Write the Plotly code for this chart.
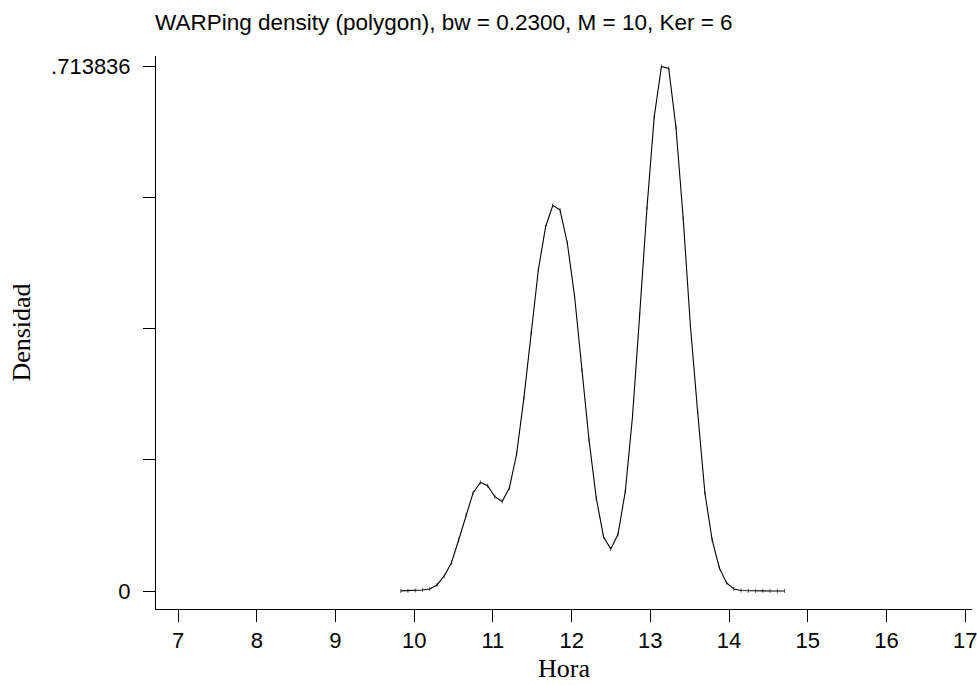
import plotly.graph_objects as go

# Grid of the WARPing polygon (Hora) and estimated density values
hora = [9.829, 9.921, 10.013, 10.105, 10.197, 10.289, 10.381, 10.473, 10.565, 10.657,
        10.749, 10.841, 10.933, 11.025, 11.117, 11.209, 11.301, 11.393, 11.485, 11.577,
        11.669, 11.761, 11.853, 11.945, 12.037, 12.129, 12.221, 12.313, 12.405, 12.497,
        12.589, 12.681, 12.773, 12.865, 12.957, 13.049, 13.141, 13.233, 13.325, 13.417,
        13.509, 13.601, 13.693, 13.785, 13.877, 13.969, 14.061, 14.153, 14.245, 14.337,
        14.429, 14.521, 14.613, 14.705]
densidad = [0.0001, 0.0003, 0.0007, 0.0014, 0.0027, 0.0082, 0.0204, 0.0385, 0.0694, 0.1034,
            0.1338, 0.1479, 0.1433, 0.1283, 0.1218, 0.1402, 0.1864, 0.2622, 0.3507, 0.4369,
            0.4954, 0.5249, 0.5185, 0.4736, 0.4015, 0.3008, 0.2055, 0.1266, 0.0739, 0.0572,
            0.0772, 0.1351, 0.2372, 0.3770, 0.5212, 0.6451, 0.713836, 0.7111, 0.6315, 0.5072,
            0.3606, 0.2436, 0.1334, 0.0694, 0.0313, 0.0109, 0.0027, 0.0007, 0.0003, 0.0001,
            0.0, 0.0, 0.0, 0.0]

x_ticks = [7, 8, 9, 10, 11, 12, 13, 14, 15, 16, 17]
y_tickvals = [0, 0.178459, 0.356918, 0.535377, 0.713836]
y_ticktext = ["0", "", "", "", ".713836"]

title_text = "WARPing density (polygon), bw = 0.2300, M = 10, Ker = 6"

W, H = 977, 685
sans = "Liberation Sans, Arial, Helvetica, sans-serif"
serif = "Liberation Serif, Times New Roman, serif"

fig = go.Figure()
fig.add_trace(go.Scatter(
    x=hora, y=densidad, mode="lines+markers",
    line=dict(color="black", width=1.1),
    marker=dict(symbol="line-ns", size=3, line=dict(color="black", width=0.6)),
    hoverinfo="skip", showlegend=False))

fig.update_layout(
    width=W, height=H,
    paper_bgcolor="white", plot_bgcolor="white",
    margin=dict(l=156, r=0, t=56, b=76),
    title=dict(text=title_text, font=dict(family=sans, size=22.5, color="black"),
               x=155 / W, xanchor="left", xref="container",
               y=1 - 22 / H, yanchor="middle", yref="container"),
    xaxis=dict(range=[6.72, 17.086], tickvals=x_ticks,
               showline=True, linecolor="black", linewidth=1,
               ticks="outside", ticklen=12, tickcolor="black", tickwidth=1,
               showgrid=False, zeroline=False, ticklabeloverflow="allow",
               tickfont=dict(family=sans, size=22, color="black"),
               title=dict(text="Hora", font=dict(family=serif, size=26, color="black"),
                          standoff=6)),
    yaxis=dict(range=[-0.0245, 0.7281], tickvals=y_tickvals, ticktext=y_ticktext,
               showline=True, linecolor="black", linewidth=1,
               ticks="outside", ticklen=12, tickcolor="black", tickwidth=1,
               showgrid=False, zeroline=False, ticklabelstandoff=8,
               tickfont=dict(family=sans, size=22, color="black"),
               title=dict(text="Densidad", font=dict(family=serif, size=26, color="black"),
                          standoff=12)),
)

fig.write_html("out.html")
